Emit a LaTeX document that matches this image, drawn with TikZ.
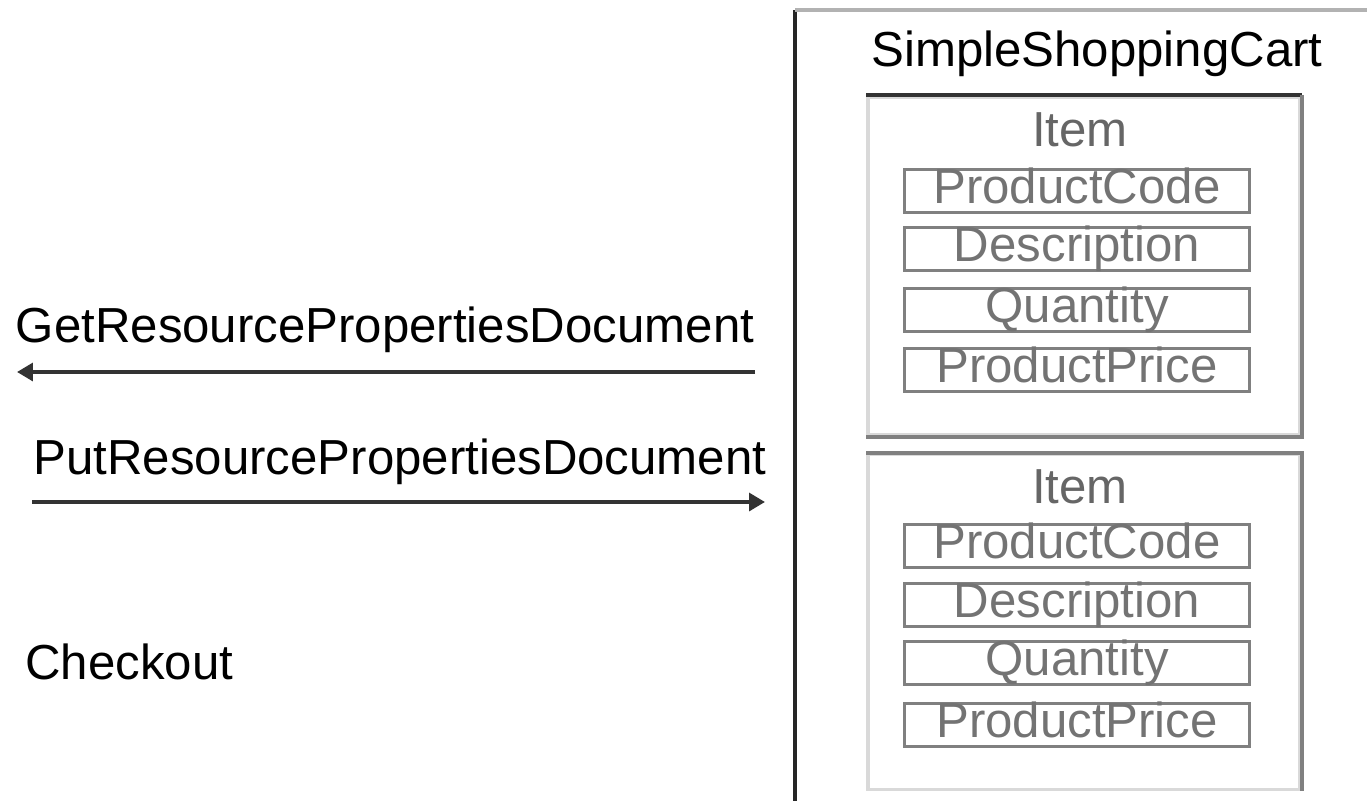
\documentclass[tikz,border=0pt]{standalone}
\usepackage{fontspec}
\setmainfont{Liberation Sans}
\usetikzlibrary{arrows.meta}

\begin{document}
\begin{tikzpicture}[x=0.02cm, y=-0.02cm, >={Triangle[length=9pt, width=10pt]},
    txt/.style={font=\fontsize{28}{30}\selectfont, inner sep=0pt},
    msg/.style={txt, text=black},
    msgline/.style={black!80, line width=2.6pt},
    itembox/.style={draw=black!15, line width=2.2pt, minimum width=8.64cm, inner sep=0pt},
    itemname/.style={txt, text=black!60},
    field/.style={txt, draw=gray, text=black!55, line width=1.6pt, text height=19pt, text depth=5pt, minimum width=6.9cm, minimum height=0.86cm}]
                \useasboundingbox (0,0) rectangle (1367,801);

                % Define cart outline
                \coordinate (cartbl) at (795,801);
                \coordinate (carttl) at (795,10);
                \coordinate (carttr) at (1367,10);
                \draw[black!85, line width=2.8pt] (cartbl) -- (carttl);
                \draw[black!30, line width=2.2pt] (carttl) -- (carttr);
                \node[msg] (cart) at (1097,54) {SimpleShoppingCart};

                % Define first item
                \node[itembox, minimum height=6.76cm] (itemA) at (1084,266) {};
                \draw[black!80, line width=2.2pt] (itemA.north west) -- (itemA.north east);
                \draw[gray, line width=2.2pt] (itemA.north east) -- (itemA.south east) -- (itemA.south west);
                \node[itemname] (nameA) at (1080,130) {Item};
                \node[field] (codeA) at (1077,191) {ProductCode};
                \node[field] (descA) at (1077,249) {Description};
                \node[field] (qtyA) at (1077,310) {Quantity};
                \node[field] (priceA) at (1077,370) {ProductPrice};

                % Define second item
                \node[itembox, minimum height=6.7cm] (itemB) at (1084,622) {};
                \draw[gray, line width=2.2pt] (itemB.north west) -- (itemB.north east) -- (itemB.south east);
                \node[itemname] (nameB) at (1080,487) {Item};
                \node[field] (codeB) at (1077,546) {ProductCode};
                \node[field] (descB) at (1077,605) {Description};
                \node[field] (qtyB) at (1077,663) {Quantity};
                \node[field] (priceB) at (1077,725) {ProductPrice};

                % Define operations
                \node[msg] (get) at (385,330) {GetResourcePropertiesDocument};
                \coordinate (getfrom) at (755,372);
                \coordinate (getto) at (17,372);
                \node[msg] (put) at (400,462) {PutResourcePropertiesDocument};
                \coordinate (putfrom) at (32,502);
                \coordinate (putto) at (765,502);
                \node[msg, anchor=west] (checkout) at (25,662) {Checkout};

                % Draw the message arrows
                \draw[msgline, ->] (getfrom) -- (getto);
                \draw[msgline, ->] (putfrom) -- (putto);
            \end{tikzpicture}
\end{document}
